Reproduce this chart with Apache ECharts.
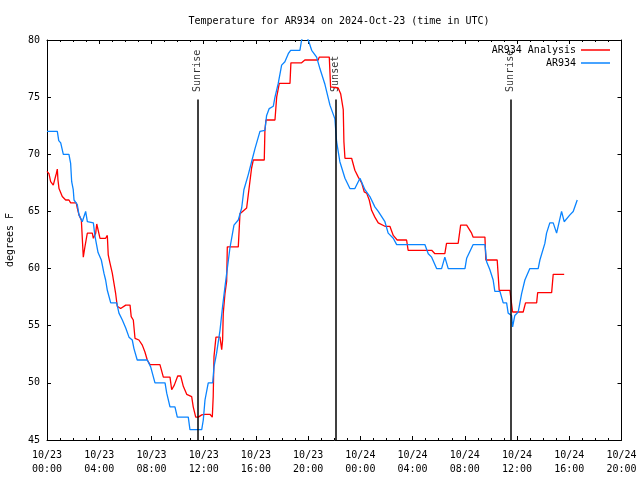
<!DOCTYPE html>
<html>
<head>
<meta charset="utf-8">
<script src="https://cdn.jsdelivr.net/npm/echarts@6/dist/echarts.min.js"></script>
<style>html,body{margin:0;padding:0;background:#fff}#c{width:640px;height:480px}</style>
</head>
<body>
<div id="c"></div>
<script>
// Hours since 2024-10-23 00:00 UTC
var obsHours = [0.00,0.79,0.90,1.05,1.25,1.68,1.81,1.89,2.01,2.07,2.32,2.45,2.70,2.96,3.09,3.55,3.68,3.91,4.16,4.36,4.49,4.62,4.88,5.34,5.51,5.77,6.03,6.28,6.53,6.66,6.91,7.68,7.94,8.27,9.04,9.17,9.42,9.80,9.98,10.82,10.95,11.85,11.97,12.10,12.35,12.69,12.79,12.99,13.25,13.45,13.63,14.01,14.32,14.65,14.91,15.08,15.41,15.67,15.93,16.31,16.69,16.82,17.02,17.33,17.46,17.71,17.97,18.22,18.48,18.66,19.37,19.50,19.75,20.01,20.27,20.65,20.90,21.29,21.67,22.05,22.18,22.43,22.82,23.20,23.58,23.97,24.35,24.73,25.11,25.37,25.88,26.13,26.52,26.78,28.94,29.20,29.46,29.84,30.22,30.47,30.73,32.01,32.14,32.64,33.54,33.67,33.92,34.17,34.30,34.69,34.94,35.20,35.32,35.58,35.66,35.83,36.09,36.35,36.60,36.98,37.62,37.75,38.13,38.26,38.51,38.77,39.03,39.15,39.41,39.61,40.05,40.30,40.43,40.61];
var obsTemps = [72.0,72.0,71.2,71.0,70.0,70.0,69.2,67.6,66.9,66.0,65.6,64.7,64.1,65.0,64.1,64.0,62.8,61.4,60.75,59.6,59.0,58.1,57.0,57.0,56.1,55.5,54.8,54.0,53.75,53.0,52.0,52.0,51.4,50.0,50.0,49.1,47.9,47.9,47.0,47.0,45.9,45.9,46.75,48.5,50.0,50.0,51.4,52.6,54.6,56.7,58.4,61.8,63.8,64.25,65.3,66.9,68.2,69.35,70.5,72.0,72.1,73.4,74.0,74.2,75.0,76.2,77.8,78.1,78.8,79.1,79.1,80.0,80.6,80.0,79.1,78.5,77.5,76.1,74.3,73.1,71.1,69.35,67.9,67.0,67.0,67.9,66.9,66.3,65.4,65.0,64.1,63.1,62.65,62.1,62.1,61.3,61.0,60.0,60.0,61.0,60.0,60.0,60.9,62.1,62.1,60.6,59.9,59.0,58.0,58.0,57.0,57.0,56.1,55.9,54.9,55.9,56.2,57.8,59.0,60.0,60.0,60.75,62.2,63.1,64.0,64.0,63.1,63.1,65.0,64.1,64.7,65.0,65.0,66.0];

var anaHours = [0.00,0.15,0.28,0.48,0.61,0.71,0.79,0.84,0.92,1.17,1.43,1.68,1.81,2.24,2.32,2.45,2.63,2.78,2.89,3.04,3.09,3.47,3.55,3.73,3.81,3.93,4.06,4.49,4.62,4.69,4.82,5.00,5.13,5.26,5.38,5.64,6.03,6.36,6.45,6.61,6.74,7.04,7.30,7.50,7.68,7.89,8.65,8.91,9.42,9.55,9.75,10.01,10.24,10.44,10.70,11.08,11.20,11.39,11.59,11.85,12.10,12.48,12.66,12.73,12.79,12.94,13.25,13.38,13.45,13.50,13.63,13.76,13.81,14.65,14.78,15.29,15.41,15.67,15.80,16.64,16.69,16.77,17.46,17.59,17.79,18.61,18.68,19.50,19.75,20.77,20.85,21.62,21.72,22.30,22.49,22.69,22.74,22.82,23.33,23.58,23.84,24.10,24.30,24.48,24.68,24.86,25.11,25.37,25.88,26.26,26.52,26.82,27.54,27.66,29.46,29.71,30.47,30.60,31.49,31.68,32.14,32.52,32.64,33.54,33.61,34.48,34.63,35.45,35.66,36.47,36.65,37.50,37.58,38.65,38.77,39.61];
var anaTemps = [68.5,68.3,67.6,67.3,67.3,68.3,68.7,67.75,67.0,66.3,66.0,66.0,65.75,65.75,65.3,64.7,64.25,61.0,61.8,62.8,63.1,63.1,62.65,63.1,63.9,63.9,62.65,62.65,62.9,61.2,60.5,59.6,58.7,57.8,56.7,56.5,56.8,56.8,55.8,55.5,53.9,53.75,53.3,52.7,52.0,51.6,51.6,50.5,50.5,49.4,49.8,50.6,50.6,49.7,49.0,48.8,47.9,47.0,47.0,47.2,47.25,47.25,47.0,48.8,52.3,54.0,54.0,52.9,53.75,56.1,57.8,58.9,61.9,61.9,64.8,65.3,66.4,68.8,69.5,69.5,72.1,73.0,73.0,75.0,76.2,76.2,78.0,78.0,78.25,78.25,78.5,78.5,75.9,75.8,75.3,73.9,71.1,69.65,69.65,68.6,68.0,67.5,66.7,66.6,66.0,65.1,64.5,64.0,63.7,63.7,62.9,62.5,62.5,61.6,61.6,61.3,61.3,62.2,62.2,63.8,63.8,63.1,62.75,62.75,60.75,60.75,58.1,58.1,56.2,56.2,57.0,57.0,57.9,57.9,59.5,59.5];

var eventHours = [11.52, 22.10, 35.52];
var eventNames = ['Sunrise', 'Sunset', 'Sunrise'];
var eventTop = 74.8;

var seriesNames = ['AR934 Analysis', 'AR934'];
var titleText = 'Temperature for AR934 on 2024-Oct-23 (time in UTC)';
var yName = 'degrees F';
var dayLabels = ['10/23', '10/24'];

function zip(a, b) { return a.map(function (v, i) { return [v, b[i]]; }); }
function pad(n) { return (n < 10 ? '0' : '') + n; }

var FONT = 'DejaVu Sans Mono';
var chart = echarts.init(document.getElementById('c'), null, {renderer: 'canvas'});

var markData = eventHours.map(function (h) {
  return [{coord: [h, 45]}, {coord: [h, eventTop]}];
});

var tickCommon = {show: true, inside: true, length: 4, lineStyle: {color: '#000', width: 1}};
var minorCommon = {show: true, splitNumber: 4, length: 2, lineStyle: {color: '#000', width: 1}};
var lineCommon = {show: true, onZero: false, lineStyle: {color: '#000', width: 1}};

chart.setOption({
  animation: false,
  backgroundColor: '#fff',
  textStyle: {fontFamily: FONT},
  title: {
    text: titleText,
    left: 334, top: 11, textAlign: 'center',
    textStyle: {fontFamily: FONT, fontSize: 10, fontWeight: 'normal', color: '#000'}
  },
  legend: [
    {data: [seriesNames[0]], right: 30, top: 45, align: 'right', orient: 'vertical', padding: 0,
     icon: 'rect', itemWidth: 29, itemHeight: 1.5, itemGap: 0,
     textStyle: {fontFamily: FONT, fontSize: 10, color: '#000'}},
    {data: [seriesNames[1]], right: 30, top: 58, align: 'right', orient: 'vertical', padding: 0,
     icon: 'rect', itemWidth: 29, itemHeight: 1.5, itemGap: 0,
     textStyle: {fontFamily: FONT, fontSize: 10, color: '#000'}}
  ],
  grid: {left: 47, right: 18.5, top: 40, bottom: 40, containLabel: false, outerBoundsMode: 'none'},
  xAxis: [
    {type: 'value', min: 0, max: 44, interval: 4, position: 'bottom',
     axisLine: lineCommon, axisTick: tickCommon, minorTick: minorCommon,
     splitLine: {show: false},
     axisLabel: {
       margin: 8, fontFamily: FONT, fontSize: 10, color: '#000', lineHeight: 14,
       formatter: function (v) {
         var d = Math.floor(v / 24);
         return dayLabels[d] + '\n' + pad(v % 24) + ':00';
       }
     }},
    {type: 'value', min: 0, max: 44, interval: 4, position: 'top',
     axisLine: lineCommon, axisTick: tickCommon, minorTick: minorCommon,
     splitLine: {show: false}, axisLabel: {show: false}}
  ],
  yAxis: [
    {type: 'value', min: 45, max: 80, interval: 5, position: 'left',
     name: yName, nameLocation: 'middle', nameGap: 32, nameRotate: 90,
     nameTextStyle: {fontFamily: FONT, fontSize: 10, color: '#000'},
     axisLine: lineCommon, axisTick: tickCommon, splitLine: {show: false},
     axisLabel: {margin: 7, fontFamily: FONT, fontSize: 10, color: '#000'}},
    {type: 'value', min: 45, max: 80, interval: 5, position: 'right',
     axisLine: lineCommon, axisTick: tickCommon, splitLine: {show: false},
     axisLabel: {show: false}}
  ],
  series: [
    {name: seriesNames[0], type: 'line', data: zip(anaHours, anaTemps),
     showSymbol: false, symbol: 'none', clip: true,
     lineStyle: {color: '#ff0000', width: 1.3}, itemStyle: {color: '#ff0000'},
     markLine: {
       silent: true, symbol: ['none', 'none'],
       label: {show: false},
       lineStyle: {color: '#000', width: 1.5, type: 'solid'},
       data: markData
     }},
    {name: seriesNames[1], type: 'line', data: zip(obsHours, obsTemps),
     showSymbol: false, symbol: 'none', clip: true,
     lineStyle: {color: '#0a84ff', width: 1.3}, itemStyle: {color: '#0a84ff'}},
    {name: 'events', type: 'scatter', symbol: 'circle', symbolSize: 1, silent: true, clip: false,
     itemStyle: {color: 'rgba(0,0,0,0)'},
     data: eventHours.map(function (h, i) { return {value: [h, eventTop], name: eventNames[i]}; }),
     label: {show: true, position: 'top', distance: 7, rotate: 90, align: 'left', verticalAlign: 'middle',
             formatter: function (p) { return p.name; },
             fontFamily: FONT, fontSize: 10, color: '#000'}}
  ]
});
</script>
</body>
</html>
